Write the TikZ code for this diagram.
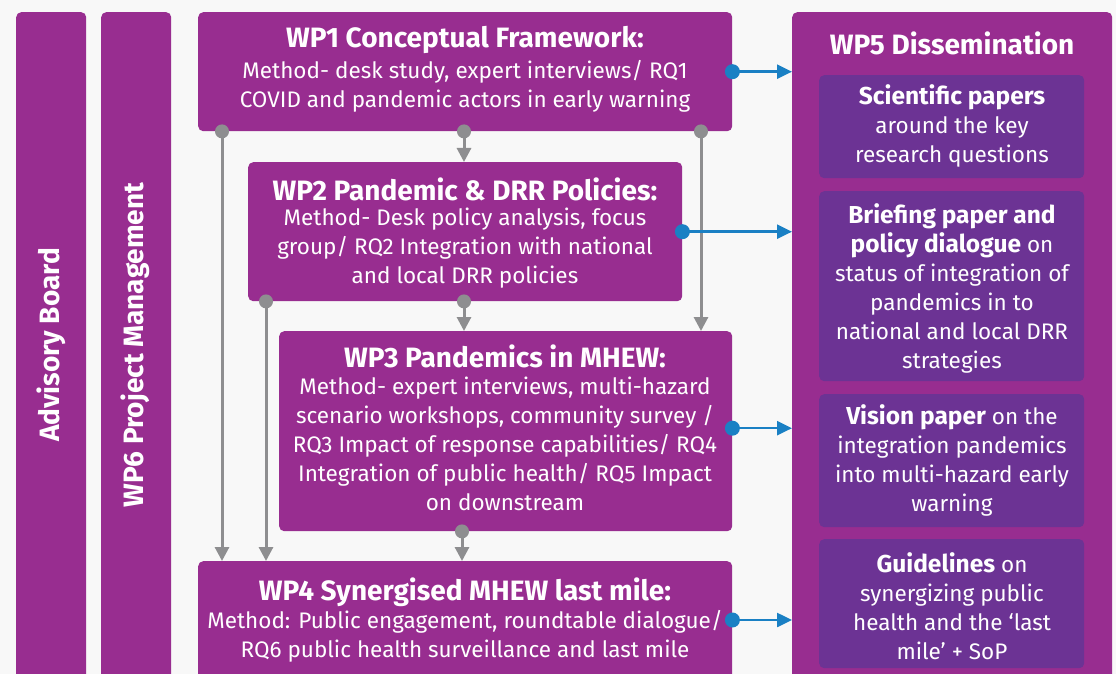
\documentclass[tikz,border=0pt]{standalone}
\usepackage{fontspec}
\setmainfont{Fira Sans}
\usetikzlibrary{arrows.meta}
\definecolor{bgc}{HTML}{F8F8F8}
\definecolor{purp}{HTML}{982D90}
\definecolor{inpurp}{HTML}{6C3394}
\definecolor{garr}{HTML}{8E8E90}
\definecolor{barr}{HTML}{1A80C4}
\newcommand\hb[1]{{\fontsize{24.5}{29}\bfseries\selectfont #1}}
\tikzset{
  box/.style={fill=purp, rounded corners=5pt, anchor=north west, inner sep=0pt, draw=none},
  inbox/.style={fill=inpurp, rounded corners=5pt, anchor=north west, inner sep=0pt, draw=none},
  ttl/.style={text=white, font=\fontsize{28}{32}\bfseries\selectfont, inner sep=0pt},
  bodytxt/.style={text=white, font=\fontsize{22.5}{29}\selectfont, align=center, inner sep=0pt},
  sidetxt/.style={text=white, font=\fontsize{28}{32}\bfseries\selectfont, rotate=90, inner sep=0pt},
  garrow/.style={draw=garr, line width=3pt, -{Triangle[length=14pt,width=14pt]}},
  gdot/.style={fill=garr, circle, inner sep=0pt, minimum size=14pt},
  barrow/.style={draw=barr, line width=2.5pt, -{Triangle[length=15pt,width=14pt]}},
  bdot/.style={fill=barr, circle, inner sep=0pt, minimum size=15pt},
}
\begin{document}
\begin{tikzpicture}[x=1pt,y=-1pt]
\useasboundingbox (0,0) rectangle (1116,674);
\clip (0,0) rectangle (1116,674);
\fill[bgc] (0,0) rectangle (1116,674);
% side bars
\node[box, minimum width=70pt, minimum height=690pt] (adv) at (16,12) {};
\node[box, minimum width=70pt, minimum height=690pt] (wp6) at (101,12) {};
\node[sidetxt] (advt) at (51,345) {Advisory Board};
\node[sidetxt] (wp6t) at (135,345) {WP6 Project Management};
% WP boxes
\node[box, minimum width=534pt, minimum height=119pt] (wp1) at (198,12) {};
\node[box, minimum width=434pt, minimum height=139pt] (wp2) at (248,162) {};
\node[box, minimum width=453pt, minimum height=200pt] (wp3) at (279,331) {};
\node[box, minimum width=534pt, minimum height=130pt] (wp4) at (198,561) {};
\node[box, minimum width=320pt, minimum height=690pt] (wp5) at (792,12) {};
% inner boxes
\node[inbox, minimum width=265pt, minimum height=103pt] (sci) at (819,75) {};
\node[inbox, minimum width=265pt, minimum height=190pt] (brf) at (819,191) {};
\node[inbox, minimum width=265pt, minimum height=133pt] (vis) at (819,394) {};
\node[inbox, minimum width=265pt, minimum height=129pt] (gui) at (819,539) {};
% texts
\node[ttl] (wp1t) at (465,40) {WP1 Conceptual Framework:};
\node[bodytxt] (wp1b) at (465,86) {Method- desk study, expert interviews/ RQ1\\COVID and pandemic actors in early warning};
\node[ttl] (wp2t) at (465,189) {WP2 Pandemic \& DRR Policies:};
\node[bodytxt] (wp2b) at (465,248) {Method- Desk policy analysis, focus\\group/ RQ2 Integration with national\\and local DRR policies};
\node[ttl] (wp3t) at (505,356) {WP3 Pandemics in MHEW:};
\node[bodytxt] (wp3b) at (505,444) {Method- expert interviews, multi-hazard\\scenario workshops, community survey /\\RQ3 Impact of response capabilities/ RQ4\\Integration of public health/ RQ5 Impact\\on downstream};
\node[ttl] (wp4t) at (465,592) {WP4 Synergised MHEW last mile:};
\node[bodytxt] (wp4b) at (465,636) {Method: Public engagement, roundtable dialogue/\\RQ6 public health surveillance and last mile};
\node[ttl] (wp5t) at (952,43) {WP5 Dissemination};
\node[bodytxt] (scit) at (952,126) {\hb{Scientific papers}\\around the key\\research questions};
\node[bodytxt] (brft) at (952,288) {\hb{Briefing paper and}\\\hb{policy dialogue} on\\status of integration of\\pandemics in to\\national and local DRR\\strategies};
\node[bodytxt] (vist) at (952,460) {\hb{Vision paper} on the\\integration pandemics\\into multi-hazard early\\warning};
\node[bodytxt] (guit) at (952,606) {\hb{Guidelines} on\\synergizing public\\health and the ‘last\\mile’ + SoP};
% gray arrows
\draw[garrow] ([xshift=24pt]wp1.south west) -- ([xshift=24pt]wp4.north west);
\draw[garrow] ([xshift=266pt]wp1.south west) -- ([xshift=216pt]wp2.north west);
\draw[garrow] ([xshift=503pt]wp1.south west) -- ([xshift=422pt]wp3.north west);
\draw[garrow] ([xshift=18pt]wp2.south west) -- ([xshift=68pt]wp4.north west);
\draw[garrow] ([xshift=216pt]wp2.south west) -- ([xshift=185pt]wp3.north west);
\draw[garrow] ([xshift=183pt]wp3.south west) -- ([xshift=264pt]wp4.north west);
\node[gdot] (d1) at ([xshift=24pt]wp1.south west) {};
\node[gdot] (d2) at ([xshift=266pt]wp1.south west) {};
\node[gdot] (d3) at ([xshift=503pt]wp1.south west) {};
\node[gdot] (d4) at ([xshift=18pt]wp2.south west) {};
\node[gdot] (d5) at ([xshift=216pt]wp2.south west) {};
\node[gdot] (d6) at ([xshift=183pt]wp3.south west) {};
% blue arrows
\coordinate (s3) at ([yshift=3pt]wp3.east);
\coordinate (s4) at ([yshift=-59pt]wp4.north east);
\draw[barrow] (wp1.east) -- (wp5.west |- wp1.east);
\draw[barrow] (wp2.east) -- (wp5.west |- wp2.east);
\draw[barrow] (s3) -- (wp5.west |- s3);
\draw[barrow] (s4) -- (wp5.west |- s4);
\node[bdot] (b1) at (wp1.east) {};
\node[bdot] (b2) at (wp2.east) {};
\node[bdot] (b3) at (s3) {};
\node[bdot] (b4) at (s4) {};
\end{tikzpicture}
\end{document}
